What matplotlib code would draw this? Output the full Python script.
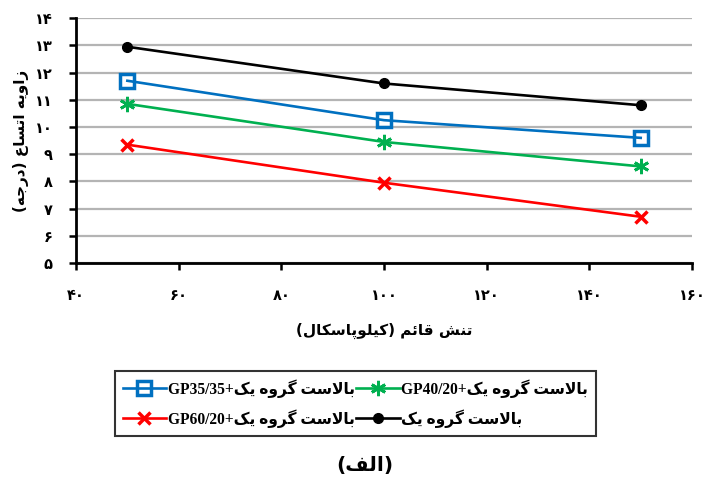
import numpy as np
import matplotlib
matplotlib.use("Agg")
import matplotlib.pyplot as plt

#%% Data

stress = [50, 100, 150]  # vertical stress (kPa)

angle_gp3535 = [11.7, 10.25, 9.6]
angle_gp4020 = [10.85, 9.45, 8.55]
angle_gp6020 = [9.35, 7.95, 6.7]
angle_ballast = [12.95, 11.6, 10.8]

x_ticks = [40, 60, 80, 100, 120, 140, 160]
y_ticks = [5, 6, 7, 8, 9, 10, 11, 12, 13, 14]

#%% Minimal Persian shaping (presentation forms + visual order)

# isolated, final, initial, medial
FORMS = {
    'ا': ('\uFE8D', '\uFE8E', None, None),
    'ب': ('\uFE8F', '\uFE90', '\uFE91', '\uFE92'),
    'پ': ('\uFB56', '\uFB57', '\uFB58', '\uFB59'),
    'ت': ('\uFE95', '\uFE96', '\uFE97', '\uFE98'),
    'ج': ('\uFE9D', '\uFE9E', '\uFE9F', '\uFEA0'),
    'د': ('\uFEA9', '\uFEAA', None, None),
    'ر': ('\uFEAD', '\uFEAE', None, None),
    'ز': ('\uFEAF', '\uFEB0', None, None),
    'س': ('\uFEB1', '\uFEB2', '\uFEB3', '\uFEB4'),
    'ش': ('\uFEB5', '\uFEB6', '\uFEB7', '\uFEB8'),
    'ع': ('\uFEC9', '\uFECA', '\uFECB', '\uFECC'),
    'ف': ('\uFED1', '\uFED2', '\uFED3', '\uFED4'),
    'ق': ('\uFED5', '\uFED6', '\uFED7', '\uFED8'),
    'ک': ('\uFB8E', '\uFB8F', '\uFB90', '\uFB91'),
    'گ': ('\uFB92', '\uFB93', '\uFB94', '\uFB95'),
    'ل': ('\uFEDD', '\uFEDE', '\uFEDF', '\uFEE0'),
    'م': ('\uFEE1', '\uFEE2', '\uFEE3', '\uFEE4'),
    'ن': ('\uFEE5', '\uFEE6', '\uFEE7', '\uFEE8'),
    'ه': ('\uFEE9', '\uFEEA', '\uFEEB', '\uFEEC'),
    'و': ('\uFEED', '\uFEEE', None, None),
    'ئ': ('\uFE89', '\uFE8A', '\uFE8B', '\uFE8C'),
    'ی': ('\uFBFC', '\uFBFD', '\uFBFE', '\uFBFF'),
    'LA': ('\uFEFB', '\uFEFC', None, None),
}
MIRROR = {'(': ')', ')': '('}


def rtl(text):
    # split into units, merging lam + alef into one ligature unit
    units = []
    i = 0
    while i < len(text):
        if text[i] == 'ل' and i + 1 < len(text) and text[i + 1] == 'ا':
            units.append('LA')
            i += 2
        else:
            units.append(text[i])
            i += 1
    out = []
    for k, u in enumerate(units):
        if u not in FORMS:
            out.append(MIRROR.get(u, u))
            continue
        prev = units[k - 1] if k > 0 else None
        nxt = units[k + 1] if k + 1 < len(units) else None
        join_prev = prev in FORMS and FORMS[prev][2] is not None
        join_next = nxt in FORMS and FORMS[u][2] is not None
        iso, fin, ini, med = FORMS[u]
        if join_prev and join_next:
            out.append(med)
        elif join_prev:
            out.append(fin)
        elif join_next:
            out.append(ini)
        else:
            out.append(iso)
    return ''.join(reversed(out))


def fa_digits(v):
    return str(v).translate(str.maketrans('0123456789', '۰۱۲۳۴۵۶۷۸۹'))


ballast = rtl('بالاست گروه یک')
labels = {
    'gp3535': 'GP35/35+' + ballast,
    'gp4020': 'GP40/20+' + ballast,
    'gp6020': 'GP60/20+' + ballast,
    'ballast': ballast,
}

#%% Figure

plt.rcParams['font.family'] = ['Liberation Serif', 'DejaVu Sans']
plt.rcParams['font.weight'] = 'bold'

fig = plt.figure(figsize=(7.04, 4.79), dpi=100)
ax = fig.add_axes([0.108, 0.451, 0.875, 0.511])

lw = 1.9
ax.plot(stress, angle_gp3535, color='#0070C0', lw=lw, marker='s', ms=10,
        mfc='none', mec='#0070C0', mew=2.5, label=labels['gp3535'])
ax.plot(stress, angle_gp4020, color='#00B050', lw=lw, marker=(6, 2, 0), ms=11,
        mec='#00B050', mew=2.0, label=labels['gp4020'])
ax.plot(stress, angle_gp6020, color='#FF0000', lw=lw, marker='x', ms=9,
        mec='#FF0000', mew=2.5, label=labels['gp6020'])
ax.plot(stress, angle_ballast, color='black', lw=lw, marker='o', ms=7,
        label=labels['ballast'])

ax.set_xlim(40, 160)
ax.set_ylim(5, 14)
ax.set_xticks(x_ticks)
ax.set_xticklabels([fa_digits(v) for v in x_ticks], fontsize=10.5,
                   family='DejaVu Sans', fontweight='bold')
ax.set_yticks(y_ticks)
ax.set_yticklabels([fa_digits(v) for v in y_ticks], fontsize=10.5,
                   family='DejaVu Sans', fontweight='bold')
ax.yaxis.grid(True, color='#b4b4b4', lw=1.6)
ax.set_axisbelow(True)
for side in ['top', 'right']:
    ax.spines[side].set_visible(False)
for side in ['left', 'bottom']:
    ax.spines[side].set_linewidth(2)
ax.tick_params(direction='out', length=5, width=1.8, pad=13)
ax.tick_params(axis='y', pad=12)

ax.set_xlabel(rtl('تنش قائم (کیلوپاسکال)'), family='DejaVu Sans', fontsize=11,
              fontweight='bold', labelpad=14)
ax.set_ylabel(rtl('زاویه اتساع (درجه)'), family='DejaVu Sans', fontsize=11,
              fontweight='bold', labelpad=4)

h = ax.get_legend_handles_labels()
order = [0, 2, 1, 3]
leg = fig.legend([h[0][i] for i in order], [h[1][i] for i in order],
                 ncol=2, loc='upper left', bbox_to_anchor=(0.163, 0.225),
                 frameon=True, fancybox=False, edgecolor='black',
                 prop={'size': 11.2, 'weight': 'bold'},
                 handlelength=2.8, handletextpad=0.1, columnspacing=0.1,
                 borderpad=0.5, labelspacing=0.75, borderaxespad=0)
leg.get_frame().set_linewidth(1.5)

fig.text(0.518, 0.008, rtl('(الف)'), ha='center', va='bottom', fontsize=14.5,
         family='DejaVu Sans', fontweight='bold')

fig.savefig('out.png', dpi=100)
